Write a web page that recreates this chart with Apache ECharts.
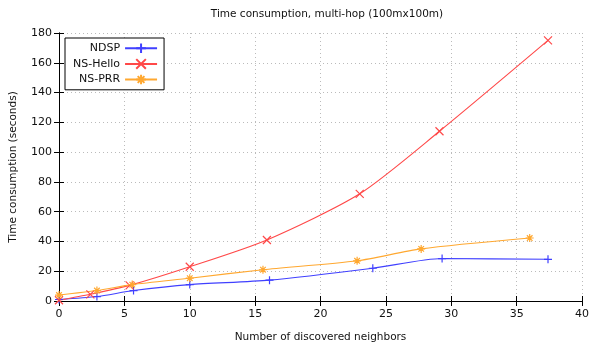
<!DOCTYPE html>
<html>
<head>
<meta charset="utf-8">
<script src="https://cdn.jsdelivr.net/npm/echarts@6/dist/echarts.min.js"></script>
<style>
  html, body { margin: 0; padding: 0; background: #fff; }
  #chart { width: 592px; height: 353px; }
</style>
</head>
<body>
<div id="chart"></div>
<script>
// values: [neighbors, seconds]
var ndsp = [[0, 1], [2.9, 3], [5.7, 7], [10, 11], [16.1, 14], [24, 22], [29.3, 28.5], [37.4, 28]]
var nsHello = [[0, 0.5], [2.4, 4.5], [5.4, 10.5], [10, 23], [15.9, 41], [23, 72], [29.1, 114], [37.4, 175]]
var nsPrr = [[0, 4], [2.9, 7], [5.6, 11], [10, 15.3], [15.6, 21], [22.8, 27], [27.7, 35], [36, 42.3]]

var plusIcon = 'path://M5,0L5,10M0,5L10,5'
var crossIcon = 'path://M0,0L10,10M10,0L0,10'
var starIcon = 'path://M5,0L5,10M0,5L10,5M1.5,1.5L8.5,8.5M8.5,1.5L1.5,8.5'

var font = 'DejaVu Sans'

function makeSeries(name, data, color, icon) {
  return {
    name: name,
    type: 'line',
    data: data,
    smooth: 0.25,
    animation: false,
    silent: true,
    symbol: icon,
    symbolSize: 8,
    showAllSymbol: true,
    lineStyle: { color: color, width: 1.1 },
    itemStyle: { color: 'none', borderColor: color, borderWidth: 1.2 }
  }
}

var myChart = echarts.init(document.getElementById('chart'))
var option = {
  backgroundColor: '#fff',
  textStyle: { fontFamily: font },
  title: {
    text: 'Time consumption, multi-hop (100mx100m)',
    left: 322,
    textAlign: 'center',
    top: 4,
    textStyle: { fontFamily: font, fontSize: 10.5, fontWeight: 'normal', color: '#111' }
  },
  legend: {
    orient: 'vertical',
    left: 65,
    top: 38,
    align: 'right',
    padding: [3, 6, 3, 8],
    itemGap: 1,
    itemWidth: 32,
    itemHeight: 12,
    borderColor: '#000',
    borderWidth: 1,
    backgroundColor: '#fff',
    textStyle: { fontFamily: font, fontSize: 11, color: '#111' },
    data: ['NDSP', 'NS-Hello', 'NS-PRR']
  },
  grid: { left: 59, right: 8, top: 33, bottom: 52 },
  xAxis: [
    {
      type: 'value',
      min: 0,
      max: 40,
      interval: 5,
      name: 'Number of discovered neighbors',
      nameLocation: 'middle',
      nameGap: 31,
      nameTextStyle: { fontFamily: font, fontSize: 10.5, color: '#111' },
      axisLine: { show: true, lineStyle: { color: '#000', width: 1 } },
      axisTick: { show: true, inside: true, length: 5, lineStyle: { color: '#000' } },
      axisLabel: { fontFamily: font, fontSize: 11, color: '#111', margin: 8 },
      splitLine: { show: true, lineStyle: { color: '#bbb', type: [1, 3] } }
    },
    {
      type: 'value',
      position: 'top',
      min: 0,
      max: 40,
      interval: 5,
      axisLine: { show: true, lineStyle: { color: '#000', width: 1 } },
      axisTick: { show: true, inside: true, length: 5, lineStyle: { color: '#000' } },
      axisLabel: { show: false },
      splitLine: { show: false }
    }
  ],
  yAxis: [
    {
      type: 'value',
      min: 0,
      max: 180,
      interval: 20,
      name: 'Time consumption (seconds)',
      nameLocation: 'middle',
      nameGap: 40,
      nameTextStyle: { fontFamily: font, fontSize: 10.5, color: '#111' },
      axisLine: { show: true, lineStyle: { color: '#000', width: 1 } },
      axisTick: { show: true, inside: true, length: 5, lineStyle: { color: '#000' } },
      axisLabel: { fontFamily: font, fontSize: 11, color: '#111', margin: 7 },
      splitLine: { show: true, lineStyle: { color: '#bbb', type: [1, 3] } }
    },
    {
      type: 'value',
      position: 'right',
      min: 0,
      max: 180,
      interval: 20,
      axisLine: { show: true, lineStyle: { color: '#000', width: 1 } },
      axisTick: { show: true, inside: true, length: 5, lineStyle: { color: '#000' } },
      axisLabel: { show: false },
      splitLine: { show: false }
    }
  ],
  series: [
    makeSeries('NDSP', ndsp, '#4040ff', plusIcon),
    makeSeries('NS-Hello', nsHello, '#ff4848', crossIcon),
    makeSeries('NS-PRR', nsPrr, '#ffa830', starIcon)
  ]
}
option && myChart.setOption(option)
</script>
</body>
</html>
